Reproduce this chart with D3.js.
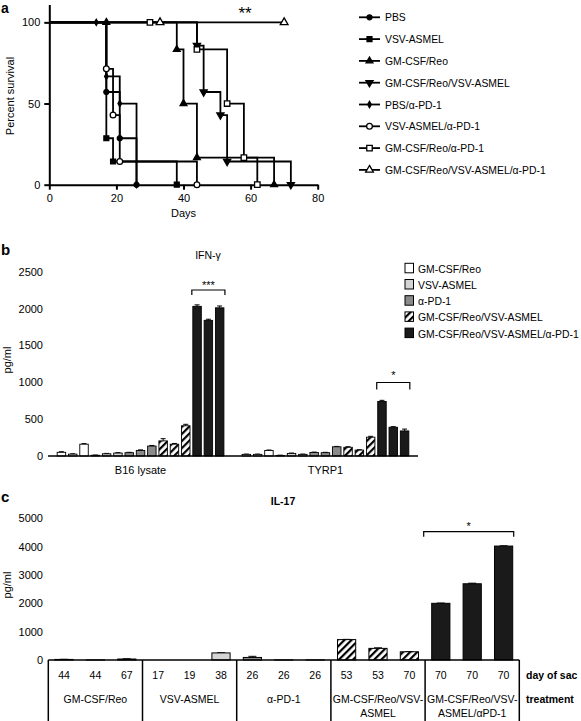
<!DOCTYPE html>
<html><head><meta charset="utf-8">
<script src="https://cdn.jsdelivr.net/npm/d3@7"></script>
<style>
body{margin:0;background:#fff}
svg{display:block}
text{font-family:"Liberation Sans",Arial,Helvetica,sans-serif;fill:#000}
</style>
</head><body>
<svg id="chart" width="581" height="721"></svg>
<script>
// ---------- Panel a: survival ----------
const survGroups = ["PBS","VSV-ASMEL","GM-CSF/Reo","GM-CSF/Reo/VSV-ASMEL","PBS/α-PD-1","VSV-ASMEL/α-PD-1","GM-CSF/Reo/α-PD-1","GM-CSF/Reo/VSV-ASMEL/α-PD-1"];
const survDays = [[0,17,21,26],[0,17,19,38],[0,38,40,44,67],[0,44,46,51,53,72],[0,17,21,26],[0,17,19,21,44],[0,44,53,58,62],[0,70]];
const survPct  = [[100,57.1,28.6,0],[100,28.6,14.3,0],[100,83.3,50,16.7,0],[100,85.7,57.1,42.9,14.3,0],[100,66.7,50,0],[100,71.4,42.9,14.3,0],[100,83.3,50,16.7,0],[100,100]];
const censorDays = [[],[],[17],[],[14],[],[30],[33]];
const survTicksX = [0,20,40,60,80];
const survTicksY = [0,50,100];

// ---------- Panel b: IFN-gamma ----------
const ifnCats = ["B16 lysate","TYRP1"];
const ifnTreat = ["GM-CSF/Reo","VSV-ASMEL","α-PD-1","GM-CSF/Reo/VSV-ASMEL","GM-CSF/Reo/VSV-ASMEL/α-PD-1"];
const ifnB16    = [50,25,160,10,30,40,45,75,135,205,160,410,2030,1840,2010];
const ifnB16Err = [8,5,8,3,5,5,5,8,8,30,10,20,20,15,25];
const ifnTyrp1    = [22,22,75,8,35,22,48,45,125,118,80,255,740,390,340];
const ifnTyrp1Err = [4,4,6,3,5,4,5,5,5,8,5,12,15,8,25];
const ifnTicks = [0,500,1000,1500,2000,2500];

// ---------- Panel c: IL-17 ----------
const il17Treat = ["GM-CSF/Reo","VSV-ASMEL","α-PD-1","GM-CSF/Reo/VSV-ASMEL","GM-CSF/Reo/VSV-ASMEL/αPD-1"];
const il17TreatLines = [["GM-CSF/Reo"],["VSV-ASMEL"],["α-PD-1"],["GM-CSF/Reo/VSV-","ASMEL"],["GM-CSF/Reo/VSV-","ASMEL/αPD-1"]];
const il17DaySac = [44,44,67,17,19,38,26,26,26,53,53,70,70,70,70];
const il17Vals = [20,4,35,0,0,250,90,4,4,720,410,290,2000,2690,4020];
const il17Err  = [5,0,8,0,0,8,40,0,0,8,20,8,10,20,10];
const il17Ticks = [0,1000,2000,3000,4000,5000];

const FONT = '"Liberation Sans",Arial,Helvetica,sans-serif';
const svg = d3.select("#chart");
const defs = svg.append("defs");
const pat = defs.append("pattern").attr("id","hatch").attr("patternUnits","userSpaceOnUse")
  .attr("width",5).attr("height",5).attr("patternTransform","rotate(45)");
pat.append("rect").attr("width",5).attr("height",5).attr("fill","#fff");
pat.append("rect").attr("width",2.2).attr("height",5).attr("fill","#000");
const fills = ["#ffffff","#d4d4d4","#8a8a8a","url(#hatch)","#1a1a1a"];
const fmt = d3.format("d");

function styleAxis(g, size){
  g.attr("font-family",FONT).attr("font-size",size);
  g.selectAll("text").attr("fill","#000");
}

// ===== Panel a =====
const xA = d3.scaleLinear([0,80],[49.3,317.7]);
const yA = d3.scaleLinear([0,111],[184.7,4.5]);
const gA = svg.append("g");
const axA_x = gA.append("g").attr("transform",`translate(0,${yA(0)})`)
  .call(d3.axisBottom(xA).tickValues(survTicksX).tickFormat(fmt).tickSize(5).tickSizeOuter(0).tickPadding(5));
const axA_y = gA.append("g").attr("transform",`translate(${xA(0)},0)`)
  .call(d3.axisLeft(yA).tickValues(survTicksY).tickFormat(fmt).tickSize(5).tickSizeOuter(0).tickPadding(4));
[axA_x,axA_y].forEach(g=>{styleAxis(g,11);g.selectAll("path,line").attr("stroke","#000").attr("stroke-width",2);});

const symDefs = [
  {t:d3.symbolCircle,s:20,f:"#000",r:0},
  {t:d3.symbolSquare,s:24,f:"#000",r:0},
  {t:d3.symbolTriangle,s:20,f:"#000",r:0},
  {t:d3.symbolTriangle,s:22,f:"#000",r:180},
  {t:d3.symbolDiamond,s:11,f:"#000",r:0},
  {t:d3.symbolCircle,s:26,f:"#fff",r:0},
  {t:d3.symbolSquare,s:30,f:"#fff",r:0},
  {t:d3.symbolTriangle,s:26,f:"#fff",r:0}
];
const stepLine = d3.line().x(d=>xA(d[0])).y(d=>yA(d[1])).curve(d3.curveStepAfter);
survGroups.forEach((g,i)=>{
  const pts = survDays[i].map((d,j)=>[d,survPct[i][j]]);
  gA.append("path").attr("d",stepLine(pts)).attr("fill","none").attr("stroke","#000").attr("stroke-width",1.8);
});
survGroups.forEach((g,i)=>{
  const pts = survDays[i].map((d,j)=>[d,survPct[i][j]]).slice(1).concat(censorDays[i].map(d=>[d,100]));
  const sd = symDefs[i];
  gA.selectAll(null).data(pts).join("path")
    .attr("d",d3.symbol(sd.t,sd.s))
    .attr("transform",d=>`translate(${xA(d[0])},${yA(d[1])}) rotate(${sd.r})`)
    .attr("fill",sd.f).attr("stroke","#000").attr("stroke-width",1.3);
});
gA.append("text").attr("transform","translate(14,96) rotate(-90)").attr("text-anchor","middle").attr("font-size",11).text("Percent survival");
gA.append("text").attr("x",(xA(0)+xA(80))/2).attr("y",217).attr("text-anchor","middle").attr("font-size",11).text("Days");
gA.append("text").attr("x",245).attr("y",19).attr("text-anchor","middle").attr("font-size",17).text("**");
gA.append("text").attr("x",1).attr("y",13).attr("font-size",14).attr("font-weight","bold").text("a");
// legend a
survGroups.forEach((g,i)=>{
  const y = 17.3 + i*21.8;
  gA.append("line").attr("x1",359).attr("x2",380).attr("y1",y).attr("y2",y).attr("stroke","#000").attr("stroke-width",1.8);
  const sd = symDefs[i];
  gA.append("path").attr("d",d3.symbol(sd.t,sd.s)).attr("transform",`translate(369.5,${y}) rotate(${sd.r})`)
    .attr("fill",sd.f).attr("stroke","#000").attr("stroke-width",1.3);
  gA.append("text").attr("x",385).attr("y",y+4).attr("font-size",10.4).text(g);
});

// ===== Panel b =====
const gB = svg.append("g");
const yB = d3.scaleLinear([0,2500],[456,271.7]);
const xB = d3.scaleBand(ifnCats,[48,418]).paddingInner(0.083).paddingOuter(0.042);
const xBi = d3.scaleBand(d3.range(15),[0,xB.bandwidth()]).paddingInner(0.25).paddingOuter(0.125);
const axB = gB.append("g").attr("transform","translate(48,0)")
  .call(d3.axisLeft(yB).tickValues(ifnTicks).tickFormat(fmt).tickSize(0).tickPadding(5));
axB.select(".domain").remove();
styleAxis(axB,11);
const ifnData = [[ifnB16,ifnB16Err],[ifnTyrp1,ifnTyrp1Err]];
ifnCats.forEach((c,ci)=>{
  const vals = ifnData[ci][0], errs = ifnData[ci][1];
  const g = gB.append("g").attr("transform",`translate(${xB(c)},0)`);
  vals.forEach((v,i)=>{
    const x = xBi(i), w = xBi.bandwidth(), cx = x + w/2;
    g.append("line").attr("x1",cx).attr("x2",cx).attr("y1",yB(v)).attr("y2",yB(v+errs[i])).attr("stroke","#000").attr("stroke-width",1);
    g.append("line").attr("x1",cx-2.5).attr("x2",cx+2.5).attr("y1",yB(v+errs[i])).attr("y2",yB(v+errs[i])).attr("stroke","#000").attr("stroke-width",1);
    g.append("rect").attr("x",x).attr("y",yB(v)).attr("width",w).attr("height",yB(0)-yB(v))
      .attr("fill",fills[Math.floor(i/3)]).attr("stroke","#000").attr("stroke-width",0.9);
  });
  gB.append("text").attr("x",xB(c)+xB.bandwidth()/2).attr("y",473.5).attr("text-anchor","middle").attr("font-size",11).text(c);
});
gB.append("line").attr("x1",48).attr("x2",418).attr("y1",yB(0)).attr("y2",yB(0)).attr("stroke","#000").attr("stroke-width",1.3);
gB.append("text").attr("transform","translate(11,360) rotate(-90)").attr("text-anchor","middle").attr("font-size",11).text("pg/ml");
gB.append("text").attr("x",208).attr("y",259).attr("text-anchor","middle").attr("font-size",10.5).text("IFN-γ");
gB.append("text").attr("x",1).attr("y",255).attr("font-size",15).attr("font-weight","bold").text("b");
function bracket(g,x1,x2,y,drop,label,ly,fs){
  g.append("path").attr("d",`M${x1},${y+drop}V${y}H${x2}V${y+drop}`).attr("fill","none").attr("stroke","#000").attr("stroke-width",1.2);
  g.append("text").attr("x",(x1+x2)/2).attr("y",ly).attr("text-anchor","middle").attr("font-size",fs).text(label);
}
{
  const b0 = xB("B16 lysate"), b1 = xB("TYRP1");
  bracket(gB, b0+xBi(12)-1, b0+xBi(14)+xBi.bandwidth()+1, 290, 5, "***", 289, 11);
  bracket(gB, b1+xBi(12)-1, b1+xBi(14)+xBi.bandwidth()+1, 382.5, 7, "*", 379, 11);
}
// legend b
ifnTreat.forEach((t,i)=>{
  const y = 263.3 + i*16.2;
  gB.append("rect").attr("x",405).attr("y",y).attr("width",8.5).attr("height",9.5)
    .attr("fill",fills[i]).attr("stroke","#000").attr("stroke-width",1);
  gB.append("text").attr("x",418).attr("y",y+9.5).attr("font-size",10.4).text(t);
});

// ===== Panel c =====
const gC = svg.append("g");
const yC = d3.scaleLinear([0,5000],[660,518.3]);
const xC = d3.scaleBand(d3.range(15),[48.3,519.3]).paddingInner(0.42).paddingOuter(0.21);
const xT = d3.scaleBand(il17Treat,[48.3,519.3]);
const axC = gC.append("g").attr("transform","translate(48,0)")
  .call(d3.axisLeft(yC).tickValues(il17Ticks).tickFormat(fmt).tickSize(0).tickPadding(5));
axC.select(".domain").remove();
styleAxis(axC,11);
il17Vals.forEach((v,i)=>{
  const x = xC(i), w = xC.bandwidth(), cx = x+w/2;
  if (il17Err[i]>0){
    gC.append("line").attr("x1",cx).attr("x2",cx).attr("y1",yC(v)).attr("y2",yC(v+il17Err[i])).attr("stroke","#000").attr("stroke-width",1);
    gC.append("line").attr("x1",cx-4).attr("x2",cx+4).attr("y1",yC(v+il17Err[i])).attr("y2",yC(v+il17Err[i])).attr("stroke","#000").attr("stroke-width",1);
  }
  if (v>0) gC.append("rect").attr("x",x).attr("y",yC(v)).attr("width",w).attr("height",yC(0)-yC(v))
    .attr("fill",fills[Math.floor(i/3)]).attr("stroke","#000").attr("stroke-width",1);
  gC.append("text").attr("x",cx).attr("y",678.5).attr("text-anchor","middle").attr("font-size",10.5).text(il17DaySac[i]);
});
gC.append("line").attr("x1",48.3).attr("x2",519.3).attr("y1",yC(0)).attr("y2",yC(0)).attr("stroke","#000").attr("stroke-width",1.5);
il17Treat.forEach((t,i)=>{
  gC.append("line").attr("x1",xT(t)).attr("x2",xT(t)).attr("y1",yC(0)).attr("y2",721).attr("stroke","#000").attr("stroke-width",1.5);
  il17TreatLines[i].forEach((ln,k)=>{
    gC.append("text").attr("x",xT(t)+xT.bandwidth()/2).attr("y",703+k*14).attr("text-anchor","middle").attr("font-size",10.5).text(ln);
  });
});
gC.append("line").attr("x1",519.3).attr("x2",519.3).attr("y1",yC(0)).attr("y2",721).attr("stroke","#000").attr("stroke-width",1.5);
gC.append("text").attr("x",526).attr("y",679).attr("font-size",10.5).attr("font-weight","bold").text("day of sac");
gC.append("text").attr("x",526).attr("y",703).attr("font-size",10.5).attr("font-weight","bold").text("treatment");
gC.append("text").attr("transform","translate(11,585) rotate(-90)").attr("text-anchor","middle").attr("font-size",11).text("pg/ml");
gC.append("text").attr("x",283).attr("y",505).attr("text-anchor","middle").attr("font-size",10.5).attr("font-weight","bold").text("IL-17");
gC.append("text").attr("x",1).attr("y",502).attr("font-size",15).attr("font-weight","bold").text("c");
bracket(gC, xC(12)-8, xC(14)+xC.bandwidth()+1, 531.7, 5, "*", 530, 11);
</script>
</body></html>
